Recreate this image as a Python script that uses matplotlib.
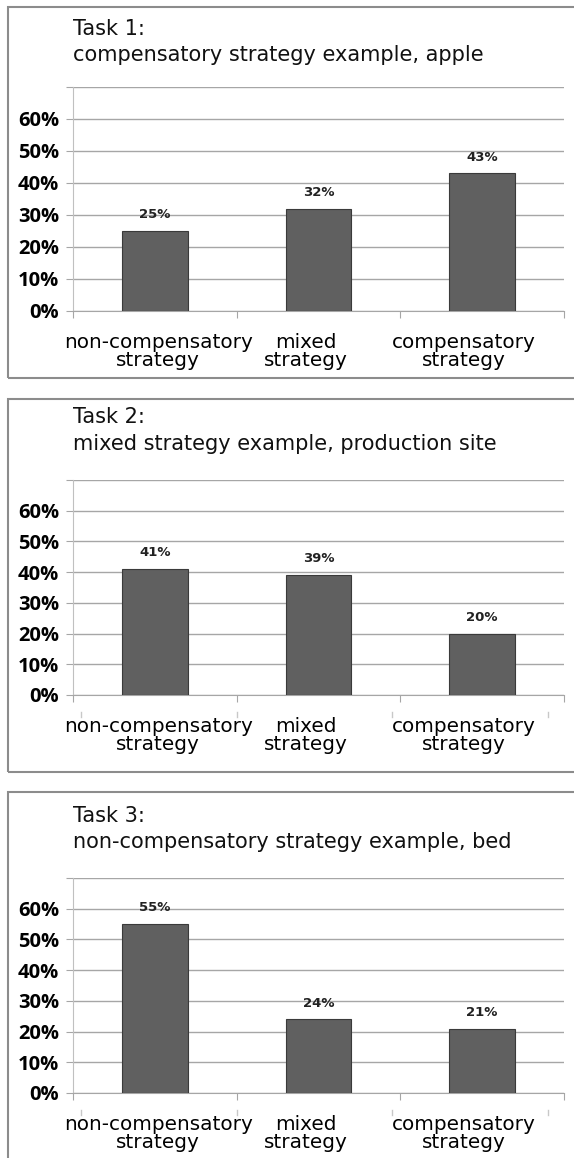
import matplotlib
matplotlib.use("Agg")
import matplotlib.pyplot as plt
from matplotlib.patches import Rectangle
from matplotlib.transforms import blended_transform_factory

# datos
categorias = ['non-compensatory\nstrategy', 'mixed\nstrategy', 'compensatory\nstrategy']
tarea1 = [0.25, 0.32, 0.43]
tarea2 = [0.41, 0.39, 0.20]
tarea3 = [0.55, 0.24, 0.21]
titulos = [
    ('Task 1:', 'compensatory strategy example, apple'),
    ('Task 2:', 'mixed strategy example, production site'),
    ('Task 3:', 'non-compensatory strategy example, bed'),
]
yticks = [0, 0.1, 0.2, 0.3, 0.4, 0.5, 0.6, 0.7]
ytick_labels = ['0%', '10%', '20%', '30%', '40%', '50%', '60%', '']

W, H = 574, 1158
fig = plt.figure(figsize=(W / 100, H / 100), dpi=100)
fig.patch.set_facecolor('white')

# (caja arriba, caja abajo, eje arriba, eje abajo, linea 1 titulo, linea 2 titulo) en pixeles
paneles = [(7, 378, 87, 311, 35, 61),
           (399, 772, 480, 695, 423, 450),
           (792, 1170, 878, 1093, 822, 848)]
x_eje = (73, 564)
pos_etiquetas = [0.02, 0.92, 1.89]
marcas_extra = [-0.454, 0.5, 1.45, 2.4]

gris = '#a6a6a6'

for i, (valores, (t1, t2), (bt, bb, at, ab, l1, l2)) in enumerate(
        zip([tarea1, tarea2, tarea3], titulos, paneles)):
    # marco del panel
    fig.patches.append(Rectangle((8 / W, 1 - bb / H), (W + 10) / W, (bb - bt) / H,
                                 transform=fig.transFigure, fill=False,
                                 edgecolor='#8c8c8c', lw=1.5))
    fig.text(73 / W, 1 - l1 / H, t1, fontsize=15, va='baseline',
             family='DejaVu Sans', color='#111111')
    fig.text(73 / W, 1 - l2 / H, t2, fontsize=15, va='baseline',
             family='DejaVu Sans', color='#111111')

    ax = fig.add_axes([x_eje[0] / W, 1 - ab / H, (x_eje[1] - x_eje[0]) / W, (ab - at) / H])
    ax.bar(range(3), valores, width=0.40, color='#606060', edgecolor='#3a3a3a',
           linewidth=0.8, zorder=3)
    for x, v in enumerate(valores):
        ax.annotate(f'{v:.0%}', (x, v), xytext=(0, 7), textcoords='offset points',
                    ha='center', va='bottom', fontsize=9.5, fontweight='bold',
                    family='DejaVu Sans', color='#222222')

    ax.set_xlim(-0.5, 2.5)
    ax.set_ylim(0, 0.7)
    ax.set_yticks(yticks)
    ax.set_yticklabels(ytick_labels, fontsize=14.5, fontweight='bold', family='Open Sans')
    ax.yaxis.grid(True, color=gris, lw=1, zorder=0)
    ax.tick_params(axis='y', length=5, color=gris, pad=5)

    ax.set_xticks([-0.5, 0.5, 1.5, 2.5])
    ax.set_xticklabels([])
    ax.tick_params(axis='x', length=5, color=gris)
    ax.set_xticks(pos_etiquetas, minor=True)
    ax.set_xticklabels(categorias, minor=True, fontsize=14.4, family='DejaVu Sans',
                       linespacing=0.95)
    ax.tick_params(axis='x', which='minor', length=0, pad=16)

    for lado in ['top', 'right']:
        ax.spines[lado].set_visible(False)
    ax.spines['left'].set_color('#c0c0c0')
    ax.spines['bottom'].set_color(gris)

    if i > 0:
        tr = blended_transform_factory(ax.transData, ax.transAxes)
        for m in marcas_extra:
            ax.plot([m, m], [-0.078, -0.1], transform=tr, color='#c8c8c8',
                    lw=1, clip_on=False)

fig.savefig('out.png', dpi=100)
